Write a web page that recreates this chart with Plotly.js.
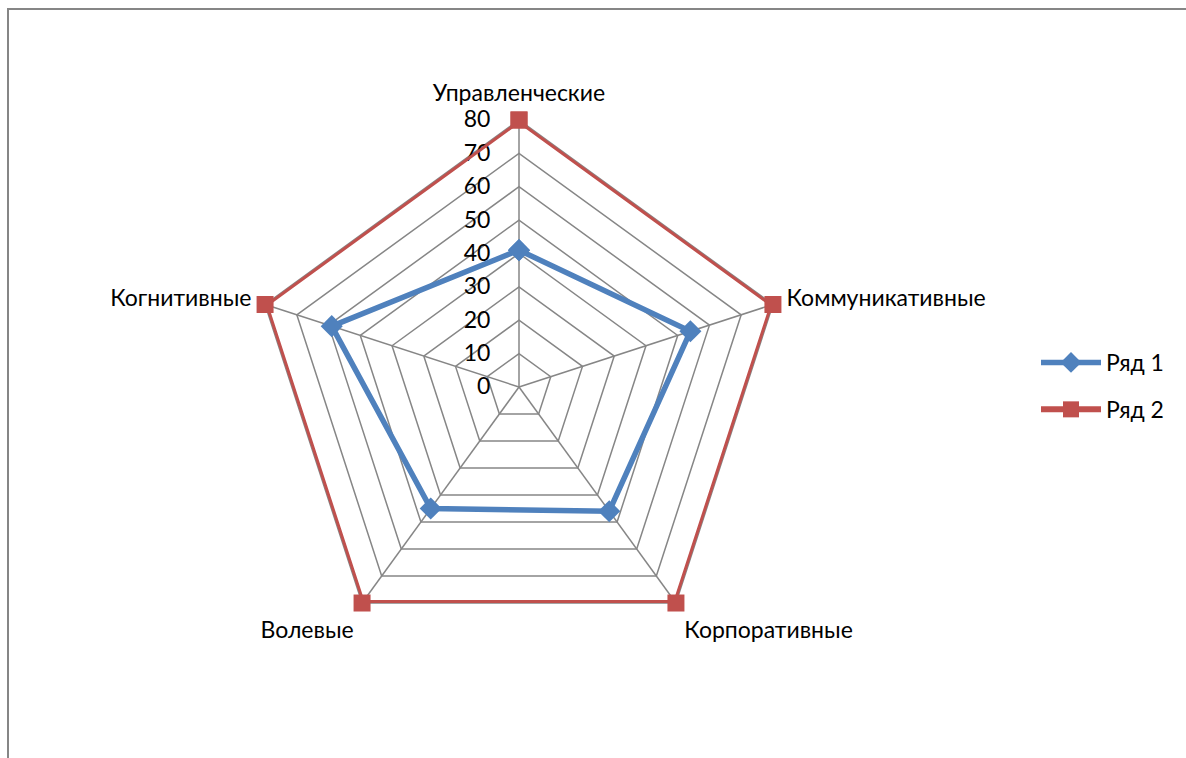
<!DOCTYPE html>
<html>
<head>
<meta charset="utf-8">
<script src="https://cdn.plot.ly/plotly-3.0.1.min.js"></script>
<style>
html,body{margin:0;padding:0;background:#fff;}
#chart{width:1186px;height:758px;}
</style>
</head>
<body>
<div id="chart"></div>
<script>
const categories = ["Управленческие", "Коммуникативные", "Корпоративные", "Волевые", "Когнитивные"];
const series1 = [41, 54, 46, 45, 59];
const series2 = [80, 80, 80, 80, 80];
const seriesNames = ["Ряд 1", "Ряд 2"];
const radialTicks = [0, 10, 20, 30, 40, 50, 60, 70, 80];

const W = 1186, H = 758;
const cx = 519, cy = 387, R = 267;

function closed(a){ return a.concat([a[0]]); }

const traces = [
  {
    type: 'scatterpolar',
    r: closed(series1),
    theta: closed(categories),
    name: seriesNames[0],
    legendgroup: 'g1',
    mode: 'lines+markers',
    line: {color: '#4F81BD', width: 5.5},
    marker: {symbol: 'diamond', size: 17, color: '#4F81BD'},
    cliponaxis: false
  },
  {
    type: 'scatterpolar',
    r: closed(series2),
    theta: closed(categories),
    name: seriesNames[1],
    legendgroup: 'g2',
    mode: 'lines+markers',
    line: {color: '#C0504D', width: 6},
    marker: {symbol: 'square', size: 17, color: '#C0504D'},
    cliponaxis: false
  }
];

const layout = {
  width: W, height: H,
  margin: {l: 0, r: 0, t: 0, b: 0},
  paper_bgcolor: '#fff',
  font: {family: 'Lato, "Open Sans", sans-serif', size: 23, color: '#000'},
  showlegend: true,
  legend: {
    x: 1036 / W, y: 1 - 341 / H, xanchor: 'left', yanchor: 'top',
    font: {size: 23, color: '#000'},
    itemwidth: 60, tracegroupgap: 14
  },
  polar: {
    domain: {x: [(cx - R) / W, (cx + R) / W], y: [1 - (cy + R) / H, 1 - (cy - R) / H]},
    bgcolor: 'rgba(0,0,0,0)',
    gridshape: 'linear',
    radialaxis: {
      range: [0, 80],
      tickvals: radialTicks,
      ticktext: radialTicks.map(String),
      angle: 90,
      tickangle: 90,
      side: 'counterclockwise',
      showline: false,
      ticks: 'outside',
      ticklen: 20,
      tickcolor: 'rgba(0,0,0,0)',
      layer: 'below traces',
      gridcolor: '#868686',
      gridwidth: 1.5,
      tickfont: {size: 23, color: '#000'}
    },
    angularaxis: {
      rotation: 90,
      direction: 'clockwise',
      categoryarray: categories,
      gridcolor: '#868686',
      gridwidth: 1.5,
      linecolor: '#868686',
      linewidth: 1.5,
      showline: true,
      layer: 'below traces',
      ticks: 'outside',
      ticklen: 9,
      tickcolor: 'rgba(0,0,0,0)',
      tickfont: {size: 23, color: '#000'}
    }
  },
  shapes: [
    {type: 'line', xref: 'paper', yref: 'paper', x0: 7 / W, x1: 1, y0: 1 - 9 / H, y1: 1 - 9 / H, line: {color: '#868686', width: 2}},
    {type: 'line', xref: 'paper', yref: 'paper', x0: 8 / W, x1: 8 / W, y0: 1 - 9 / H, y1: 0, line: {color: '#868686', width: 2}}
  ]
};

Plotly.newPlot('chart', traces, layout, {displayModeBar: false, staticPlot: true});
</script>
</body>
</html>
